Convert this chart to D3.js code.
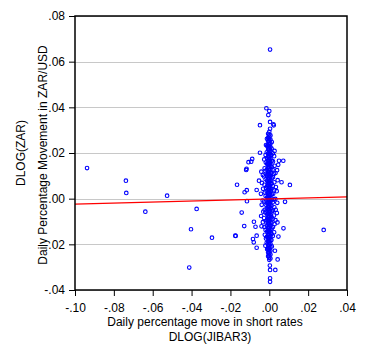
<!DOCTYPE html>
<html>
<head>
<meta charset="utf-8">
<script src="https://cdn.jsdelivr.net/npm/d3@7"></script>
<style>
  body { margin: 0; background: #fff; }
  text { font-family: Arial, "Liberation Sans", sans-serif; }
</style>
</head>
<body>
<script>
// x ticks and y ticks
var xTicks = [-0.10, -0.08, -0.06, -0.04, -0.02, 0.00, 0.02, 0.04];
var yTicks = [-0.04, -0.02, 0.00, 0.02, 0.04, 0.06, 0.08];

// points sitting on x = 0 (the dense column)
var zeroY = [0.0293, 0.0281, 0.0272, 0.0262, 0.0255, 0.0246, 0.0238, 0.0229, 0.0221, 0.0214,
  0.0205, 0.0197, 0.0188, 0.0181, 0.0173, 0.0164, 0.0157, 0.0149, 0.0140, 0.0132,
  0.0125, 0.0116, 0.0108, 0.0101, 0.0093, 0.0085, 0.0077, 0.0069, 0.0062, 0.0054,
  0.0046, 0.0038, 0.0031, 0.0023, 0.0015, 0.0008, 0.0001, -0.0006, -0.0014, -0.0022,
  -0.0029, -0.0037, -0.0045, -0.0052, -0.0060, -0.0068, -0.0076, -0.0083, -0.0091, -0.0099,
  -0.0107, -0.0114, -0.0122, -0.0130, -0.0138, -0.0145, -0.0153, -0.0161, -0.0169, -0.0177,
  -0.0184, -0.0192, -0.0200, -0.0208, -0.0216, -0.0224, -0.0232, -0.0241, -0.0250, -0.0259, -0.0268];

// points just left / right of the column
var leftY = [0.0284, 0.0266, 0.0251, 0.0233, 0.0217, 0.0199, 0.0184, 0.0168, 0.0151, 0.0136,
  0.0119, 0.0104, 0.0088, 0.0071, 0.0057, 0.0041, 0.0026, 0.0009, -0.0004, -0.0019,
  -0.0035, -0.0049, -0.0066, -0.0081, -0.0097, -0.0111, -0.0127, -0.0142, -0.0158, -0.0173,
  -0.0189, -0.0204, -0.0221, -0.0236, -0.0252];
var rightY = [0.0277, 0.0259, 0.0242, 0.0226, 0.0209, 0.0192, 0.0176, 0.0161, 0.0144, 0.0128,
  0.0112, 0.0096, 0.0081, 0.0064, 0.0049, 0.0033, 0.0017, 0.0002, -0.0012, -0.0027,
  -0.0042, -0.0057, -0.0073, -0.0089, -0.0104, -0.0119, -0.0134, -0.0149, -0.0165, -0.0181,
  -0.0197, -0.0212, -0.0228, -0.0245, -0.0262];

// points close to the column
var nearPts = [
  [-0.0012, 0.0262], [-0.0011, 0.0231], [-0.0013, 0.0203], [-0.0012, 0.0178], [-0.0011, 0.0152],
  [-0.0013, 0.0127], [-0.0012, 0.0103], [-0.0011, 0.0079], [-0.0012, 0.0054], [-0.0013, 0.0031],
  [-0.0011, 0.0006], [-0.0012, -0.0019], [-0.0013, -0.0043], [-0.0011, -0.0068], [-0.0012, -0.0094],
  [-0.0013, -0.0118], [-0.0011, -0.0143], [-0.0012, -0.0167], [-0.0013, -0.0192], [-0.0011, -0.0221],
  [0.0013, 0.0248], [0.0012, 0.0219], [0.0011, 0.0191], [0.0013, 0.0166], [0.0012, 0.0139],
  [0.0011, 0.0114], [0.0013, 0.0089], [0.0012, 0.0066], [0.0011, 0.0041], [0.0013, 0.0018],
  [0.0012, -0.0007], [0.0011, -0.0031], [0.0013, -0.0056], [0.0012, -0.0081], [0.0011, -0.0106],
  [0.0013, -0.0131], [0.0012, -0.0155], [0.0011, -0.0181], [0.0013, -0.0209],
  [-0.0019, 0.0191], [-0.0018, 0.0158], [-0.0020, 0.0121], [-0.0019, 0.0085], [-0.0017, 0.0047],
  [-0.0019, 0.0012], [-0.0018, -0.0026], [-0.0020, -0.0061], [-0.0018, -0.0099], [-0.0019, -0.0137],
  [-0.0017, -0.0174],
  [0.0018, 0.0199], [0.0019, 0.0163], [0.0017, 0.0127], [0.0019, 0.0094], [0.0018, 0.0055],
  [0.0020, 0.0021], [0.0018, -0.0016], [0.0019, -0.0052], [0.0017, -0.0089], [0.0019, -0.0124],
  [0.0018, -0.0163],
  [-0.0026, 0.0172], [-0.0024, 0.0133], [-0.0027, 0.0097], [-0.0025, 0.0061], [-0.0023, 0.0027],
  [-0.0026, -0.0012], [-0.0024, -0.0049], [-0.0027, -0.0085], [-0.0025, -0.0124], [-0.0023, -0.0158],
  [0.0025, 0.0186], [0.0027, 0.0144], [0.0024, 0.0109], [0.0026, 0.0072], [0.0025, 0.0036],
  [0.0023, -0.0003], [0.0026, -0.0038], [0.0024, -0.0074], [0.0027, -0.0112], [0.0025, -0.0147],
  [-0.0033, 0.0104], [-0.0032, 0.0043], [-0.0034, -0.0008], [-0.0031, -0.0057], [-0.0033, -0.0103],
  [0.0032, 0.0112], [0.0034, 0.0051], [0.0031, -0.0001], [0.0033, -0.0049], [0.0032, -0.0094],
  [-0.0041, 0.0118], [-0.0038, 0.0069], [-0.0043, 0.0021], [-0.0039, -0.0027], [-0.0042, -0.0076],
  [-0.0040, -0.0121],
  [0.0040, 0.0125], [0.0043, 0.0081], [0.0038, 0.0033], [0.0041, -0.0018], [0.0039, -0.0063],
  [0.0042, -0.0104]
];

// scattered points
var outPts = [
  [0.0004, 0.0653],
  [-0.0015, 0.0396], [0.0000, 0.0384], [-0.0005, 0.0366], [0.0004, 0.0336], [0.0021, 0.0326],
  [-0.0048, 0.0322], [0.0004, 0.0306], [0.0023, 0.0321],
  [-0.0048, 0.0201], [0.0027, 0.0209], [-0.0017, 0.0235],
  [-0.0093, 0.0162], [-0.0107, 0.0160], [-0.0088, 0.0174], [-0.0119, 0.0126], [-0.0117, 0.0131],
  [0.0050, 0.0166], [0.0072, 0.0166], [0.0046, 0.0148],
  [-0.0166, 0.0061], [-0.0127, 0.0028], [-0.0116, 0.0037], [-0.0065, 0.0038], [-0.0053, 0.0079],
  [0.0063, 0.0072], [0.0106, 0.0060],
  [-0.0142, -0.0061], [-0.0115, -0.0011], [0.0081, -0.0014],
  [-0.0079, -0.0101], [-0.0129, -0.0120], [-0.0071, -0.0123], [0.0073, -0.0130],
  [-0.0175, -0.0162], [-0.0065, -0.0162], [0.0047, -0.0166], [-0.0084, -0.0177], [-0.0080, -0.0191],
  [-0.0065, -0.0215], [-0.0020, -0.0206], [0.0029, -0.0228], [0.0043, -0.0266],
  [0.0003, -0.0293], [0.0004, -0.0312], [0.0031, -0.0312], [0.0004, -0.0349], [0.0004, -0.0364],
  [0.0280, -0.0137],
  [-0.0938, 0.0134], [-0.0738, 0.0079], [-0.0736, 0.0025], [-0.0638, -0.0057], [-0.0526, 0.0013],
  [-0.0374, -0.0045], [-0.0403, -0.0134], [-0.0412, -0.0302], [-0.0295, -0.0171], [-0.0173, -0.0163]
];

// regression line
var fitX = [-0.10, 0.04];
var fitIntercept = -0.0001;
var fitSlope = 0.023;

var width = 373, height = 353;
var margin = { top: 16, right: 26, bottom: 63, left: 75 };

var svg = d3.select("body").append("svg")
    .attr("width", width)
    .attr("height", height);

var xScale = d3.scaleLinear()
    .domain([-0.10, 0.04])
    .range([margin.left, width - margin.right]);

var yScale = d3.scaleLinear()
    .domain([-0.04, 0.08])
    .range([height - margin.bottom, margin.top]);

// EViews style labels: .08, -.02
function fmt(v) {
  var s = d3.format(".2f")(Math.abs(v)).replace(/^0/, "");
  return (v < -1e-9 ? "-" : "") + s;
}

// gridlines
svg.append("g")
  .selectAll("line")
  .data(yTicks)
  .enter().append("line")
  .attr("x1", xScale(-0.10)).attr("x2", xScale(0.04))
  .attr("y1", function(d) { return Math.round(yScale(d)) + 0.5; })
  .attr("y2", function(d) { return Math.round(yScale(d)) + 0.5; })
  .attr("stroke", "#c8c8c8");

// points
var allPts = zeroY.map(function(y) { return [0, y]; })
  .concat(leftY.map(function(y) { return [-0.0006, y]; }))
  .concat(rightY.map(function(y) { return [0.0006, y]; }))
  .concat(nearPts).concat(outPts);

svg.append("g")
  .selectAll("circle")
  .data(allPts)
  .enter().append("circle")
  .attr("cx", function(d) { return xScale(d[0]); })
  .attr("cy", function(d) { return yScale(d[1]); })
  .attr("r", 1.8)
  .attr("fill", "none")
  .attr("stroke", "#0000ff")
  .attr("stroke-width", 1.1);

// regression line
svg.append("line")
  .attr("x1", xScale(fitX[0])).attr("y1", yScale(fitIntercept + fitSlope * fitX[0]))
  .attr("x2", xScale(fitX[1])).attr("y2", yScale(fitIntercept + fitSlope * fitX[1]))
  .attr("stroke", "#ff0000")
  .attr("stroke-width", 1.2);

// frame
svg.append("rect")
  .attr("x", xScale(-0.10)).attr("y", yScale(0.08))
  .attr("width", xScale(0.04) - xScale(-0.10))
  .attr("height", yScale(-0.04) - yScale(0.08))
  .attr("fill", "none")
  .attr("stroke", "#000")
  .attr("stroke-width", 1.5);

// axes
var xAxis = d3.axisBottom(xScale).tickValues(xTicks).tickSize(6).tickSizeOuter(0).tickFormat(fmt);
var yAxis = d3.axisLeft(yScale).tickValues(yTicks).tickSize(6).tickSizeOuter(0).tickFormat(fmt);

var gx = svg.append("g")
  .attr("transform", "translate(0," + (height - margin.bottom) + ")")
  .call(xAxis);
var gy = svg.append("g")
  .attr("transform", "translate(" + margin.left + ",0)")
  .call(yAxis);

[gx, gy].forEach(function(g) {
  g.select(".domain").remove();
  g.selectAll(".tick line").attr("stroke", "#000");
  g.selectAll(".tick text").attr("font-size", "12px").attr("fill", "#000")
    .attr("font-family", "Arial, 'Liberation Sans', sans-serif");
});
gx.selectAll(".tick text").attr("dy", "1.05em");
gy.selectAll(".tick text").attr("dx", "-1px");

// axis titles
var labels = svg.append("g").attr("font-size", "12px").attr("fill", "#000");
labels.append("text")
  .attr("transform", "translate(25,153) rotate(-90)")
  .attr("text-anchor", "middle")
  .text("DLOG(ZAR)");
labels.append("text")
  .attr("transform", "translate(47,155) rotate(-90)")
  .attr("text-anchor", "middle")
  .text("Daily Percentage Movement in ZAR/USD");
labels.append("text")
  .attr("x", 205).attr("y", 326)
  .attr("text-anchor", "middle")
  .text("Daily percentage move in short rates");
labels.append("text")
  .attr("x", 210).attr("y", 341)
  .attr("text-anchor", "middle")
  .text("DLOG(JIBAR3)");
</script>
</body>
</html>
